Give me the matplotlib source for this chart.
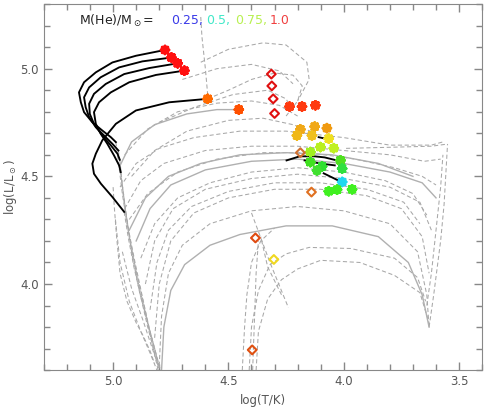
import matplotlib
matplotlib.use("Agg")
import matplotlib.pyplot as plt
from matplotlib.ticker import MultipleLocator, FormatStrFormatter

# black tracks: log T, log L
blk_T = [
    [4.775, 4.901, 5.003, 5.075, 5.126, 5.148, 5.140, 5.126, 5.090, 5.047, 5.010, 4.988],
    [4.746, 4.873, 4.974, 5.054, 5.104, 5.126, 5.119, 5.104, 5.075, 5.032, 5.003, 4.977],
    [4.720, 4.843, 4.952, 5.032, 5.083, 5.104, 5.101, 5.083, 5.047, 5.010, 4.981, 4.971],
    [4.691, 4.814, 4.930, 5.010, 5.061, 5.083, 5.075, 5.054, 5.025, 4.996, 4.974, 4.967],
    [4.590, 4.757, 4.901, 4.988, 5.047, 5.075, 5.090, 5.083, 5.053, 5.003, 4.952],
    [4.109, 4.080],
    [4.248, 4.191, 4.126, 4.083, 4.030],
    [4.170, 4.104, 4.039],
    [4.087, 4.043, 4.000],
]
blk_L = [
    [5.087, 5.060, 5.029, 4.983, 4.937, 4.890, 4.844, 4.798, 4.751, 4.713, 4.682, 4.659],
    [5.052, 5.034, 5.006, 4.960, 4.913, 4.867, 4.821, 4.775, 4.728, 4.682, 4.651, 4.620],
    [5.025, 5.003, 4.975, 4.929, 4.883, 4.837, 4.790, 4.744, 4.690, 4.644, 4.605, 4.577],
    [4.991, 4.971, 4.937, 4.890, 4.844, 4.798, 4.744, 4.698, 4.651, 4.597, 4.551, 4.520],
    [4.860, 4.844, 4.806, 4.744, 4.667, 4.605, 4.559, 4.512, 4.466, 4.404, 4.335],
    [4.682, 4.675],
    [4.574, 4.593, 4.593, 4.588, 4.574],
    [4.574, 4.560, 4.551],
    [4.514, 4.491, 4.468],
]

# gray dashed tracks
dash_T = [
    [4.988, 4.975, 4.96, 4.94, 4.915, 4.885, 4.85, 4.82, 4.80],
    [4.977, 4.965, 4.95, 4.93, 4.90, 4.87, 4.84, 4.81, 4.795],
    [4.971, 4.96, 4.945, 4.92, 4.89, 4.855, 4.83, 4.805],
    [4.967, 4.955, 4.935, 4.905, 4.875, 4.845, 4.815, 4.795],
    [4.952, 4.935, 4.91, 4.88, 4.85, 4.82, 4.80],
    [5.00, 4.995, 4.985, 4.97, 4.94, 4.90, 4.87, 4.84, 4.82],
    [4.99, 4.97, 4.93, 4.88, 4.84, 4.81],
    [4.96, 4.92, 4.87, 4.83, 4.80],
    [4.97, 4.90, 4.80, 4.65, 4.45, 4.25, 4.00, 3.80, 3.62, 3.57],
    [4.95, 4.88, 4.78, 4.60, 4.40, 4.20, 4.00, 3.80, 3.65, 3.58],
    [4.86, 4.82, 4.74, 4.60, 4.40, 4.20, 4.00, 3.80, 3.67, 3.62],
    [4.82, 4.80, 4.75, 4.65, 4.50, 4.30, 4.10, 3.90, 3.75, 3.66, 3.63],
    [4.80, 4.79, 4.76, 4.70, 4.58, 4.40, 4.20, 4.00, 3.80, 3.68, 3.64, 3.63],
    [3.63, 3.61, 3.58, 3.565, 3.55],
    [3.64, 3.62, 3.60, 3.58, 3.57],
    [3.99, 3.80, 3.62, 3.55],
    [4.93, 4.85, 4.72, 4.55, 4.35, 4.15, 3.95, 3.78, 3.66, 3.60],
    [4.88, 4.82, 4.72, 4.58, 4.40, 4.20, 4.00, 3.82, 3.70, 3.64],
    [4.84, 4.81, 4.76, 4.66, 4.50, 4.30, 4.10, 3.90, 3.74, 3.67],
    [4.95, 4.85, 4.72, 4.55, 4.40, 4.28, 4.20],
    [4.92, 4.82, 4.68, 4.50, 4.35, 4.22, 4.12],
    [4.80, 4.65, 4.48, 4.33, 4.25, 4.22],
    [4.70, 4.55, 4.40, 4.28, 4.22],
    [4.59, 4.50, 4.40, 4.30, 4.22, 4.18, 4.20, 4.25],
    [4.62, 4.50, 4.35, 4.25, 4.16, 4.15, 4.20],
    [4.62, 4.615, 4.60, 4.59],
    [4.41, 4.40, 4.37, 4.32, 4.25, 4.15, 3.97, 3.78, 3.68, 3.645],
    [4.38, 4.37, 4.33, 4.27, 4.20, 4.10, 3.93, 3.78, 3.67, 3.63],
    [4.44, 4.43, 4.42, 4.40, 4.36, 4.30],
    [4.395, 4.39, 4.385, 4.38, 4.37],
    [4.40, 4.32, 4.24],
    [4.27, 4.33, 4.36],
]
dash_L = [
    [4.659, 4.55, 4.42, 4.28, 4.12, 3.96, 3.82, 3.70, 3.61],
    [4.620, 4.50, 4.38, 4.22, 4.06, 3.92, 3.78, 3.66, 3.60],
    [4.577, 4.46, 4.33, 4.17, 4.00, 3.84, 3.72, 3.60],
    [4.520, 4.40, 4.26, 4.10, 3.95, 3.80, 3.68, 3.60],
    [4.335, 4.22, 4.08, 3.94, 3.80, 3.68, 3.60],
    [4.45, 4.36, 4.22, 4.05, 3.92, 3.82, 3.76, 3.69, 3.63],
    [4.30, 4.10, 3.92, 3.78, 3.68, 3.60],
    [4.15, 3.98, 3.83, 3.70, 3.61],
    [4.45, 4.56, 4.63, 4.68, 4.71, 4.71, 4.68, 4.645, 4.645, 4.66],
    [4.35, 4.48, 4.56, 4.62, 4.64, 4.64, 4.62, 4.60, 4.57, 4.58],
    [4.00, 4.20, 4.35, 4.44, 4.49, 4.51, 4.49, 4.45, 4.38, 4.25],
    [3.75, 4.00, 4.20, 4.33, 4.40, 4.44, 4.44, 4.41, 4.35, 4.22, 4.05],
    [3.62, 3.85, 4.05, 4.18, 4.28, 4.34, 4.36, 4.34, 4.28, 4.15, 3.95, 3.80],
    [3.80, 3.95, 4.20, 4.37, 4.65],
    [3.90, 4.05, 4.25, 4.45, 4.60],
    [4.63, 4.635, 4.64, 4.65],
    [4.30, 4.42, 4.52, 4.58, 4.61, 4.61, 4.58, 4.54, 4.50, 4.46],
    [4.12, 4.28, 4.40, 4.47, 4.52, 4.54, 4.52, 4.48, 4.42, 4.32],
    [3.88, 4.10, 4.25, 4.36, 4.43, 4.47, 4.47, 4.44, 4.38, 4.28],
    [4.60, 4.72, 4.80, 4.84, 4.85, 4.83, 4.78],
    [4.50, 4.62, 4.71, 4.76, 4.77, 4.74, 4.70],
    [4.75, 4.82, 4.88, 4.90, 4.86, 4.80],
    [4.95, 5.00, 5.02, 4.99, 4.93],
    [4.86, 4.90, 4.95, 4.98, 4.97, 4.92, 4.85, 4.78],
    [5.03, 5.09, 5.12, 5.11, 5.03, 4.95, 4.85],
    [5.24, 5.15, 5.00, 4.88],
    [3.60, 3.80, 3.97, 4.09, 4.14, 4.17, 4.165, 4.12, 4.03, 3.92],
    [3.60, 3.78, 3.93, 4.02, 4.07, 4.11, 4.10, 4.04, 3.96, 3.82],
    [3.60, 3.80, 3.95, 4.10, 4.20, 4.26],
    [3.60, 3.75, 3.90, 4.05, 4.20],
    [4.33, 4.10, 3.89],
    [3.95, 4.08, 4.22],
]

# gray solid tracks
solid_T = [
    [4.97, 4.92, 4.82, 4.68, 4.55, 4.455],
    [4.79, 4.78, 4.75, 4.69, 4.58, 4.45, 4.25, 4.05, 3.85, 3.72, 3.66, 3.63],
    [4.90, 4.84, 4.75, 4.60, 4.40, 4.20, 4.00, 3.80, 3.66, 3.60],
    [4.93, 4.86, 4.76, 4.62, 4.45, 4.25, 4.05, 3.85, 3.70],
]
solid_L = [
    [4.55, 4.66, 4.74, 4.79, 4.81, 4.81],
    [3.60, 3.80, 3.97, 4.09, 4.18, 4.23, 4.27, 4.27, 4.22, 4.10, 3.95, 3.80],
    [4.20, 4.35, 4.46, 4.53, 4.57, 4.58, 4.56, 4.52, 4.47, 4.40],
    [4.25, 4.40, 4.50, 4.56, 4.60, 4.61, 4.60, 4.56, 4.50],
]

# star markers
star_T = [4.775, 4.747, 4.720, 4.691, 4.590, 4.455, 4.235, 4.181, 4.123,
          4.188, 4.126, 4.073, 4.203, 4.138, 4.065, 4.101, 4.043, 4.145,
          4.145, 4.094, 4.014, 4.007, 4.116, 4.007, 4.065, 4.029, 3.964]
star_L = [5.087, 5.052, 5.025, 4.991, 4.860, 4.810, 4.824, 4.824, 4.830,
          4.718, 4.731, 4.724, 4.690, 4.690, 4.675, 4.636, 4.631, 4.613,
          4.566, 4.546, 4.574, 4.536, 4.528, 4.474, 4.431, 4.438, 4.440]
star_c = ['#ff1010', '#ff1010', '#ff1010', '#ff1010', '#ff6a00', '#ff5000',
          '#ff3a10', '#ff3a10', '#ff3a10',
          '#f0a818', '#f0a818', '#f09a10', '#f0b818', '#f0c020', '#f0e020',
          '#b8f020', '#c0f020', '#a0f020',
          '#40e020', '#30e030', '#50e020', '#30e040', '#40e030', '#20d8f0',
          '#40f020', '#40f020', '#40f020']

# diamond markers
dia_T = [4.314, 4.312, 4.306, 4.300, 4.188, 4.140, 4.383, 4.303, 4.397]
dia_L = [4.975, 4.920, 4.860, 4.792, 4.610, 4.427, 4.214, 4.114, 3.694]
dia_c = ['#e01010', '#e01010', '#e01010', '#e01010', '#d07030', '#e07020',
         '#e04a10', '#f0d820', '#e05010']

mass_lbl = ['0.25,', '0.5,', '0.75,', '1.0']
mass_col = ['#3a3ae8', '#40e8c8', '#b8f050', '#f04040']
mass_x = [0.290, 0.371, 0.436, 0.516]

fig = plt.figure(figsize=(4.88, 4.09), dpi=100)
ax = fig.add_axes([0.090, 0.095, 0.898, 0.895])

for t, l in zip(dash_T, dash_L):
    ax.plot(t, l, color='#a8a8a8', lw=0.75, dashes=(4, 2.5))
for t, l in zip(solid_T, solid_L):
    ax.plot(t, l, color='#b0b0b0', lw=1.0)
for t, l in zip(blk_T, blk_L):
    ax.plot(t, l, color='black', lw=1.35)

ax.scatter(star_T, star_L, c=star_c, marker=(8, 2, 0), s=30, linewidths=2.2, zorder=5)
ax.scatter(dia_T, dia_L, facecolors='none', edgecolors=dia_c, marker='D', s=20,
           linewidths=1.5, zorder=5)

ax.set_xlim(5.3, 3.4)
ax.set_ylim(3.6, 5.3)
ax.xaxis.set_major_locator(MultipleLocator(0.5))
ax.xaxis.set_minor_locator(MultipleLocator(0.1))
ax.yaxis.set_major_locator(MultipleLocator(0.5))
ax.yaxis.set_minor_locator(MultipleLocator(0.1))
ax.xaxis.set_major_formatter(FormatStrFormatter('%.1f'))
ax.yaxis.set_major_formatter(FormatStrFormatter('%.1f'))
ax.tick_params(which='both', direction='in', top=True, right=True,
               colors='#888888', labelcolor='#555555', labelsize=8.5)
ax.tick_params(which='major', length=6, width=1)
ax.tick_params(which='minor', length=4, width=1)
for sp in ax.spines.values():
    sp.set_color('#888888')

ax.set_xlabel('log(T/K)', color='#555555', fontsize=8.5)
ax.set_ylabel(r'log(L/L$_\odot$)', color='#555555', fontsize=8.5)
ax.yaxis.set_label_coords(-0.056, 0.5)

ax.text(0.080, 0.954, r'M(He)/M$_\odot$=', transform=ax.transAxes, fontsize=9,
        color='#222222', va='center')
for lb, cl, xx in zip(mass_lbl, mass_col, mass_x):
    ax.text(xx, 0.954, lb, transform=ax.transAxes, fontsize=9, color=cl, va='center')

fig.savefig('out.png', dpi=100)
